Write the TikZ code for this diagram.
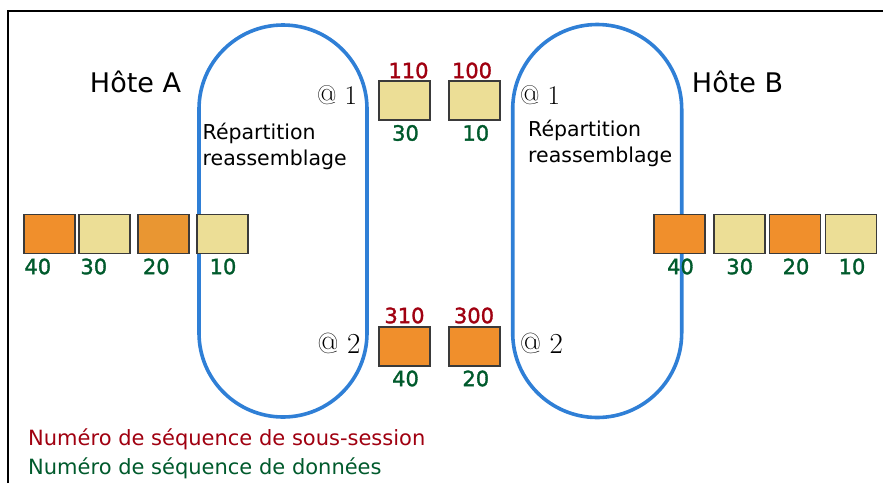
\documentclass[tikz,border=0pt]{standalone}
\usepackage{fontspec}
\setmainfont{DejaVu Sans}
\newfontfamily\lmfont{Latin Modern Roman}
\newfontface\numfont{DejaVu Sans}[FakeBold=1.5]
\definecolor{ringblue}{HTML}{2F7FD6}
\definecolor{khaki}{HTML}{ECDE96}
\definecolor{orangeA}{HTML}{F08F2C}
\definecolor{orangeB}{HTML}{E99632}
\definecolor{boxedge}{HTML}{3A3A3A}
\definecolor{seqred}{HTML}{A00010}
\definecolor{seqgreen}{HTML}{005A2C}
\tikzset{
  pkt/.style={draw=boxedge, line width=1.8pt, minimum width=51pt, minimum height=39pt, inner sep=0pt},
  ring/.style={draw=ringblue, line width=3.6pt},
  numg/.style={text=seqgreen, inner sep=0pt, font=\numfont\fontsize{21}{24}\selectfont},
  numr/.style={text=seqred, inner sep=0pt, font=\numfont\fontsize{21}{24}\selectfont},
  host/.style={inner sep=0pt, anchor=base, font=\fontsize{27}{32}\selectfont},
  func/.style={inner sep=0pt, anchor=base west, font=\fontsize{20.5}{24}\selectfont},
  addr/.style={inner sep=0pt, anchor=base, font=\lmfont\fontsize{27}{30}\selectfont},
  legend/.style={inner sep=0pt, anchor=base west, font=\fontsize{21}{24}\selectfont}
}
\begin{document}
\begin{tikzpicture}[x=1pt,y=-1pt]
\useasboundingbox (0,0) rectangle (883,483);
% frame
\draw[line width=2pt] (8,483) -- (8,10.7) -- (883,10.7);
% rings
\draw[ring] (199,109) arc[start angle=180, end angle=360, radius=84] -- (367,333) arc[start angle=0, end angle=180, radius=84] -- cycle;
\draw[ring] (512.7,109) arc[start angle=180, end angle=360, radius=84.5] -- (681.7,333) arc[start angle=0, end angle=180, radius=84.5] -- cycle;
% hosts
\node[host] (hA) at (135.5,92.7) {Hôte A};
\node[host] (hB) at (737.5,92.7) {Hôte B};
% function labels
\node[func] (fA1) at (202.5,139) {Répartition};
\node[func] (fA2) at (202.5,165) {reassemblage};
\node[func] (fB1) at (528,136) {Répartition};
\node[func] (fB2) at (528,162) {reassemblage};
% addresses
\node[addr] (aA1) at (337,104.7) {@ 1};
\node[addr] (aB1) at (540,104.7) {@ 1};
\node[addr, font=\lmfont\fontsize{29}{32}\selectfont] (aA2) at (339,353.3) {@ 2};
\node[addr, font=\lmfont\fontsize{29}{32}\selectfont] (aB2) at (541.5,353) {@ 2};
% top path packets
\node[pkt, fill=khaki] (t1) at (404.5,100.3) {};
\node[pkt, fill=khaki] (t2) at (474.5,100.3) {};
\node[numr] (t1r) at (408.5,70.5) {110};
\node[numr] (t2r) at (472,70.5) {100};
\node[numg] (t1g) at (405.5,133) {30};
\node[numg] (t2g) at (475.8,133) {10};
% bottom path packets
\node[pkt, fill=orangeA] (b1) at (404.5,346.7) {};
\node[pkt, fill=orangeA] (b2) at (474.8,346.7) {};
\node[numr] (b1r) at (404.5,315.5) {310};
\node[numr] (b2r) at (474,315.5) {300};
\node[numg] (b1g) at (405.5,378.5) {40};
\node[numg] (b2g) at (475.8,378.5) {20};
% host A queue
\node[pkt, fill=orangeA] (l1) at (49.5,234) {};
\node[pkt, fill=khaki] (l2) at (104.5,234) {};
\node[pkt, fill=orangeB] (l3) at (163.7,234) {};
\node[pkt, fill=khaki] (l4) at (222.2,234) {};
\node[numg] (l1g) at (37.8,266.5) {40};
\node[numg] (l2g) at (93.8,266.5) {30};
\node[numg] (l3g) at (156.3,266.5) {20};
\node[numg] (l4g) at (223,266.5) {10};
% host B queue
\node[pkt, fill=orangeA] (r1) at (679.2,234) {};
\node[pkt, fill=khaki] (r2) at (739.2,234) {};
\node[pkt, fill=orangeA] (r3) at (795,234) {};
\node[pkt, fill=khaki] (r4) at (850.9,234) {};
\node[numg] (r1g) at (680.5,266.5) {40};
\node[numg] (r2g) at (739.7,266.5) {30};
\node[numg] (r3g) at (796,266.5) {20};
\node[numg] (r4g) at (852,266.5) {10};
% legend
\node[legend, text=seqred] (lg1) at (28,445) {Numéro de séquence de sous-session};
\node[legend, text=seqgreen] (lg2) at (28,474) {Numéro de séquence de données};
\end{tikzpicture}
\end{document}
